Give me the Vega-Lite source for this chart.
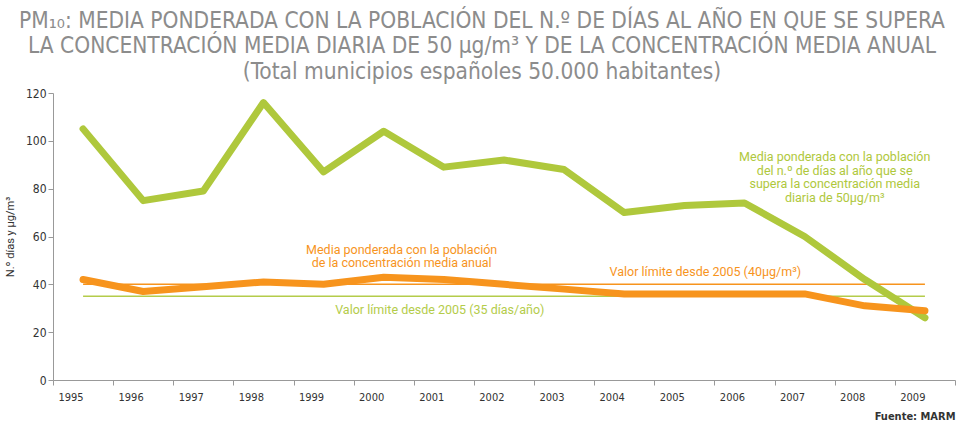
{
  "$schema": "https://vega.github.io/schema/vega-lite/v6.json",
  "width": 902,
  "height": 287,
  "autosize": {"type": "none"},
  "padding": {"left": 53, "top": 93, "right": 9, "bottom": 46},
  "background": "white",
  "config": {"view": {"stroke": null}, "font": "Roboto"},
  "title": {
    "text": ["PM₁₀: MEDIA PONDERADA CON LA POBLACIÓN DEL N.º DE DÍAS AL AÑO EN QUE SE SUPERA", "LA CONCENTRACIÓN MEDIA DIARIA DE 50 µg/m³ Y DE LA CONCENTRACIÓN MEDIA ANUAL", "(Total municipios españoles  50.000 habitantes)"],
    "font": "DejaVu Sans Condensed, Roboto",
    "fontSize": 22.5,
    "fontWeight": "normal",
    "color": "#8c8c8c",
    "lineHeight": 25.5,
    "anchor": "middle",
    "dx": -22,
    "offset": 4
  },
  "datasets": {
    "series": [
      {"year": "1995", "serie": "dias", "value": 105},
      {"year": "1996", "serie": "dias", "value": 75},
      {"year": "1997", "serie": "dias", "value": 79},
      {"year": "1998", "serie": "dias", "value": 116},
      {"year": "1999", "serie": "dias", "value": 87},
      {"year": "2000", "serie": "dias", "value": 104},
      {"year": "2001", "serie": "dias", "value": 89},
      {"year": "2002", "serie": "dias", "value": 92},
      {"year": "2003", "serie": "dias", "value": 88},
      {"year": "2004", "serie": "dias", "value": 70},
      {"year": "2005", "serie": "dias", "value": 73},
      {"year": "2006", "serie": "dias", "value": 74},
      {"year": "2007", "serie": "dias", "value": 60},
      {"year": "2008", "serie": "dias", "value": 42},
      {"year": "2009", "serie": "dias", "value": 26},
      {"year": "1995", "serie": "anual", "value": 42},
      {"year": "1996", "serie": "anual", "value": 37},
      {"year": "1997", "serie": "anual", "value": 39},
      {"year": "1998", "serie": "anual", "value": 41},
      {"year": "1999", "serie": "anual", "value": 40},
      {"year": "2000", "serie": "anual", "value": 43},
      {"year": "2001", "serie": "anual", "value": 42},
      {"year": "2002", "serie": "anual", "value": 40},
      {"year": "2003", "serie": "anual", "value": 38},
      {"year": "2004", "serie": "anual", "value": 36},
      {"year": "2005", "serie": "anual", "value": 36},
      {"year": "2006", "serie": "anual", "value": 36},
      {"year": "2007", "serie": "anual", "value": 36},
      {"year": "2008", "serie": "anual", "value": 31},
      {"year": "2009", "serie": "anual", "value": 29}
    ],
    "limits": [
      {"year": "1995", "serie": "lim40", "value": 40},
      {"year": "2009", "serie": "lim40", "value": 40},
      {"year": "1995", "serie": "lim35", "value": 35},
      {"year": "2009", "serie": "lim35", "value": 35}
    ]
  },
  "layer": [
    {
      "data": {"name": "limits"},
      "mark": {"type": "line", "strokeWidth": 1.5},
      "encoding": {
        "x": {"field": "year", "type": "ordinal"},
        "y": {"field": "value", "type": "quantitative"},
        "detail": {"field": "serie"},
        "color": {"field": "serie", "type": "nominal", "scale": {"domain": ["lim40", "lim35", "anual", "dias"], "range": ["#f7941d", "#b4cc4a", "#f7941d", "#afc83c"]}, "legend": null}
      }
    },
    {
      "data": {"name": "series"},
      "mark": {"type": "line", "strokeWidth": 7, "strokeCap": "round", "strokeJoin": "round"},
      "encoding": {
        "x": {
          "field": "year", "type": "ordinal",
          "scale": {"type": "band", "paddingInner": 0, "paddingOuter": 0},
          "axis": {
            "title": "Fuente: MARM",
            "titleAnchor": "end",
            "titleAlign": "right",
            "titleFontSize": 11,
            "titleFontWeight": "bold",
            "titleFont": "DejaVu Sans Condensed, Roboto",
            "titleColor": "#333",
            "titlePadding": 8,
            "labelAngle": 0,
            "labelFontSize": 11,
            "labelColor": "#333",
            "labelPadding": 12,
            "tickBand": "extent",
            "tickColor": "#999",
            "tickSize": 5,
            "domainColor": "#999",
            "labelFont": "DejaVu Sans Condensed, Roboto",
            "grid": false
          }
        },
        "y": {
          "field": "value", "type": "quantitative",
          "scale": {"domain": [0, 120], "nice": false},
          "axis": {
            "title": "N.º días y µg/m³",
            "titleFontSize": 11,
            "titleFontWeight": "normal",
            "titleColor": "#333",
            "titlePadding": 10,
            "values": [0, 20, 40, 60, 80, 100, 120],
            "labelOverlap": false,
            "labelFontSize": 12,
            "labelColor": "#333",
            "labelFont": "DejaVu Sans Condensed, Roboto",
            "tickColor": "#999",
            "tickSize": 5,
            "domainColor": "#999",
            "grid": false
          }
        },
        "detail": {"field": "serie"},
        "color": {"field": "serie", "type": "nominal", "legend": null}
      }
    },
    {
      "data": {"values": [
        {"year": "2000", "value": 54.5, "label": "Media ponderada con la población\nde la concentración media anual", "c": "#f7941d", "w": "bold", "dx": 48},
        {"year": "2008", "value": 93.2, "label": "Media ponderada con la población\ndel n.º de días al año que se\nsupera la concentración media\ndiaria de 50µg/m³", "c": "#afc83c", "w": "bold", "dx": 0},
        {"year": "2005", "value": 45, "label": "Valor límite desde 2005 (40µg/m³)", "c": "#f7941d", "w": "normal", "dx": 51},
        {"year": "2001", "value": 29.2, "label": "Valor límite desde 2005 (35 días/año)", "c": "#b4cc4a", "w": "normal", "dx": 26}
      ]},
      "mark": {"type": "text", "fontSize": 12.5, "lineHeight": 13.5, "lineBreak": "\n", "align": "center", "baseline": "middle", "font": "Roboto"},
      "encoding": {
        "x": {"field": "year", "type": "ordinal"},
        "y": {"field": "value", "type": "quantitative"},
        "text": {"field": "label"},
        "color": {"field": "c", "type": "nominal", "scale": null},
        "fontWeight": {"field": "w", "type": "nominal", "scale": null},
        "xOffset": {"field": "dx", "type": "quantitative", "scale": null}
      }
    }
  ]
}
